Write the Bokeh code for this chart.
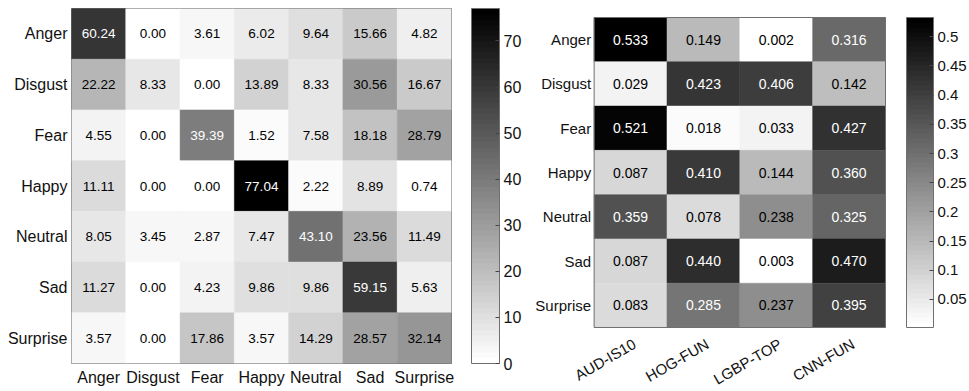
import numpy as np
from bokeh.plotting import figure
from bokeh.models import (ColumnDataSource, LinearColorMapper, ColorBar,
                          FixedTicker, NumeralTickFormatter, Range1d)
from bokeh.layouts import row
from bokeh.embed import file_html
from bokeh.resources import INLINE
from bokeh.core.properties import value

# ---------------- data ----------------
emotions = ["Anger", "Disgust", "Fear", "Happy", "Neutral", "Sad", "Surprise"]

conf_anger    = [60.24, 0.00, 3.61, 6.02, 9.64, 15.66, 4.82]
conf_disgust  = [22.22, 8.33, 0.00, 13.89, 8.33, 30.56, 16.67]
conf_fear     = [4.55, 0.00, 39.39, 1.52, 7.58, 18.18, 28.79]
conf_happy    = [11.11, 0.00, 0.00, 77.04, 2.22, 8.89, 0.74]
conf_neutral  = [8.05, 3.45, 2.87, 7.47, 43.10, 23.56, 11.49]
conf_sad      = [11.27, 0.00, 4.23, 9.86, 9.86, 59.15, 5.63]
conf_surprise = [3.57, 0.00, 17.86, 3.57, 14.29, 28.57, 32.14]

features = ["AUD-IS10", "HOG-FUN", "LGBP-TOP", "CNN-FUN"]

w_anger    = [0.533, 0.149, 0.002, 0.316]
w_disgust  = [0.029, 0.423, 0.406, 0.142]
w_fear     = [0.521, 0.018, 0.033, 0.427]
w_happy    = [0.087, 0.410, 0.144, 0.360]
w_neutral  = [0.359, 0.078, 0.238, 0.325]
w_sad      = [0.087, 0.440, 0.003, 0.470]
w_surprise = [0.083, 0.285, 0.237, 0.395]

left_ticks = [0, 10, 20, 30, 40, 50, 60, 70]
right_ticks = [0.05, 0.1, 0.15, 0.2, 0.25, 0.3, 0.35, 0.4, 0.45, 0.5]

conf_rows = [conf_anger, conf_disgust, conf_fear, conf_happy,
             conf_neutral, conf_sad, conf_surprise]
w_rows = [w_anger, w_disgust, w_fear, w_happy, w_neutral, w_sad, w_surprise]

# reversed gray colormap (white = low, black = high), 64 levels
levels = np.round(np.linspace(255, 0, 64)).astype(int)
palette = ["#%02x%02x%02x" % (v, v, v) for v in levels]

FONT = "Liberation Sans"
FRAME_COLOR = "#707070"
LABEL_COLOR = "#111111"


def cells(xcats, ycats, rows, fmt, numeric=False):
    vals = np.array(rows, dtype=float)
    lo, hi = float(vals.min()), float(vals.max())
    xs, ys, vs, txt, tc = [], [], [], [], []
    n = len(ycats)
    for i, yc in enumerate(ycats):
        for j, xc in enumerate(xcats):
            v = float(vals[i, j])
            xs.append(j + 0.5 if numeric else xc)
            ys.append((n - 1 - i) + 0.5 if numeric else yc)
            vs.append(v)
            txt.append(fmt % v)
            tc.append("#ffffff" if (v - lo) / (hi - lo) > 0.5 else "#000000")
    src = ColumnDataSource(dict(x=xs, y=ys, v=vs, t=txt, c=tc))
    mapper = LinearColorMapper(palette=palette, low=lo, high=hi)
    return src, mapper


def colorbar(mapper, ticks, fmt, size, width, gap, y=0, height="auto"):
    return ColorBar(color_mapper=mapper, ticker=FixedTicker(ticks=ticks),
                    formatter=fmt, width=width, height=height, padding=0,
                    margin=0, location=(gap, y),
                    major_tick_in=4, major_tick_out=0,
                    major_tick_line_color="#444444",
                    bar_line_color=FRAME_COLOR, label_standoff=4,
                    major_label_text_font=FONT,
                    major_label_text_font_size=size,
                    major_label_text_color=LABEL_COLOR,
                    border_line_color=None, background_fill_alpha=0)


def draw_cells(p, src, mapper, size):
    cm = {"field": "v", "transform": mapper}
    p.rect("x", "y", 1, 1, source=src, fill_color=cm, line_color=cm,
           line_width=0.5)
    p.text("x", "y", text="t", source=src, text_color="c",
           text_align="center", text_baseline="middle",
           text_font=value(FONT), text_font_size=size)
    p.grid.visible = False


# ---------------- left: confusion matrix ----------------
src_l, map_l = cells(emotions, emotions, conf_rows, "%.2f")
left = figure(x_range=emotions, y_range=list(reversed(emotions)),
              width=532, height=391, output_backend="svg",
              toolbar_location=None, frame_align=False,
              min_border_left=71, min_border_right=81,
              min_border_top=8, min_border_bottom=28)
draw_cells(left, src_l, map_l, "13.5px")
left.outline_line_color = FRAME_COLOR
for ax in (left.xaxis, left.yaxis):
    ax.axis_line_color = None
    ax.major_tick_line_color = None
    ax.minor_tick_line_color = None
    ax.major_tick_out = 0
    ax.major_tick_in = 0
    ax.major_label_text_font = FONT
    ax.major_label_text_font_size = "16px"
    ax.major_label_text_color = LABEL_COLOR
left.yaxis.major_label_standoff = 4
left.xaxis.major_label_standoff = 5
left.add_layout(colorbar(map_l, left_ticks, NumeralTickFormatter(format="0"),
                         "16px", 28, 20), "right")

# ---------------- right: weights ----------------
R_W, R_H = 437, 391
R_TOP, R_HEAT_H, R_BELOW = 16, 310, 64       # px: border, heat-map, below
R_LEFT, R_HEAT_W, R_RIGHT = 62, 293, 81      # px: label room, heat-map, cbar
n_rows, n_cols = len(emotions), len(features)
row_px = R_HEAT_H / n_rows
col_px = R_HEAT_W / n_cols

src_r, map_r = cells(features, emotions, w_rows, "%.3f", numeric=True)
right = figure(x_range=Range1d(-R_LEFT / col_px, n_cols + 1 / col_px),
               y_range=Range1d(-R_BELOW / row_px, n_rows + 1 / row_px),
               width=R_W, height=R_H, output_backend="svg",
               toolbar_location=None, frame_align=False,
               min_border_left=0, min_border_right=R_RIGHT,
               min_border_top=R_TOP, min_border_bottom=0)
draw_cells(right, src_r, map_r, "14px")
right.quad(left=0, right=n_cols, bottom=0, top=n_rows,
           fill_color=None, line_color=FRAME_COLOR, line_width=1)
right.outline_line_color = None
right.xaxis.visible = False
right.yaxis.visible = False

# emotion names left of the rows
ylab = ColumnDataSource(dict(x=[0] * n_rows,
                             y=[(n_rows - 1 - i) + 0.5 for i in range(n_rows)],
                             t=emotions))
right.text("x", "y", text="t", source=ylab, x_offset=-3,
           text_align="right", text_baseline="middle",
           text_font=value(FONT), text_font_size="15px",
           text_color=LABEL_COLOR)
# rotated feature names under the columns
xlab = ColumnDataSource(dict(x=[j + 0.5 for j in range(n_cols)],
                             y=[-15 / row_px] * n_cols, t=features))
right.text("x", "y", text="t", source=xlab, angle=np.pi / 6,
           x_offset=4, text_align="right", text_baseline="middle",
           text_font=value(FONT), text_font_size="15px",
           text_color=LABEL_COLOR)
right.add_layout(colorbar(map_r, right_ticks,
                          NumeralTickFormatter(format="0.0[0]"),
                          "15px", 27, 20, y=R_BELOW, height=R_HEAT_H),
                 "right")

layout = row(left, right)
open("out.html", "w").write(file_html(layout, INLINE))
